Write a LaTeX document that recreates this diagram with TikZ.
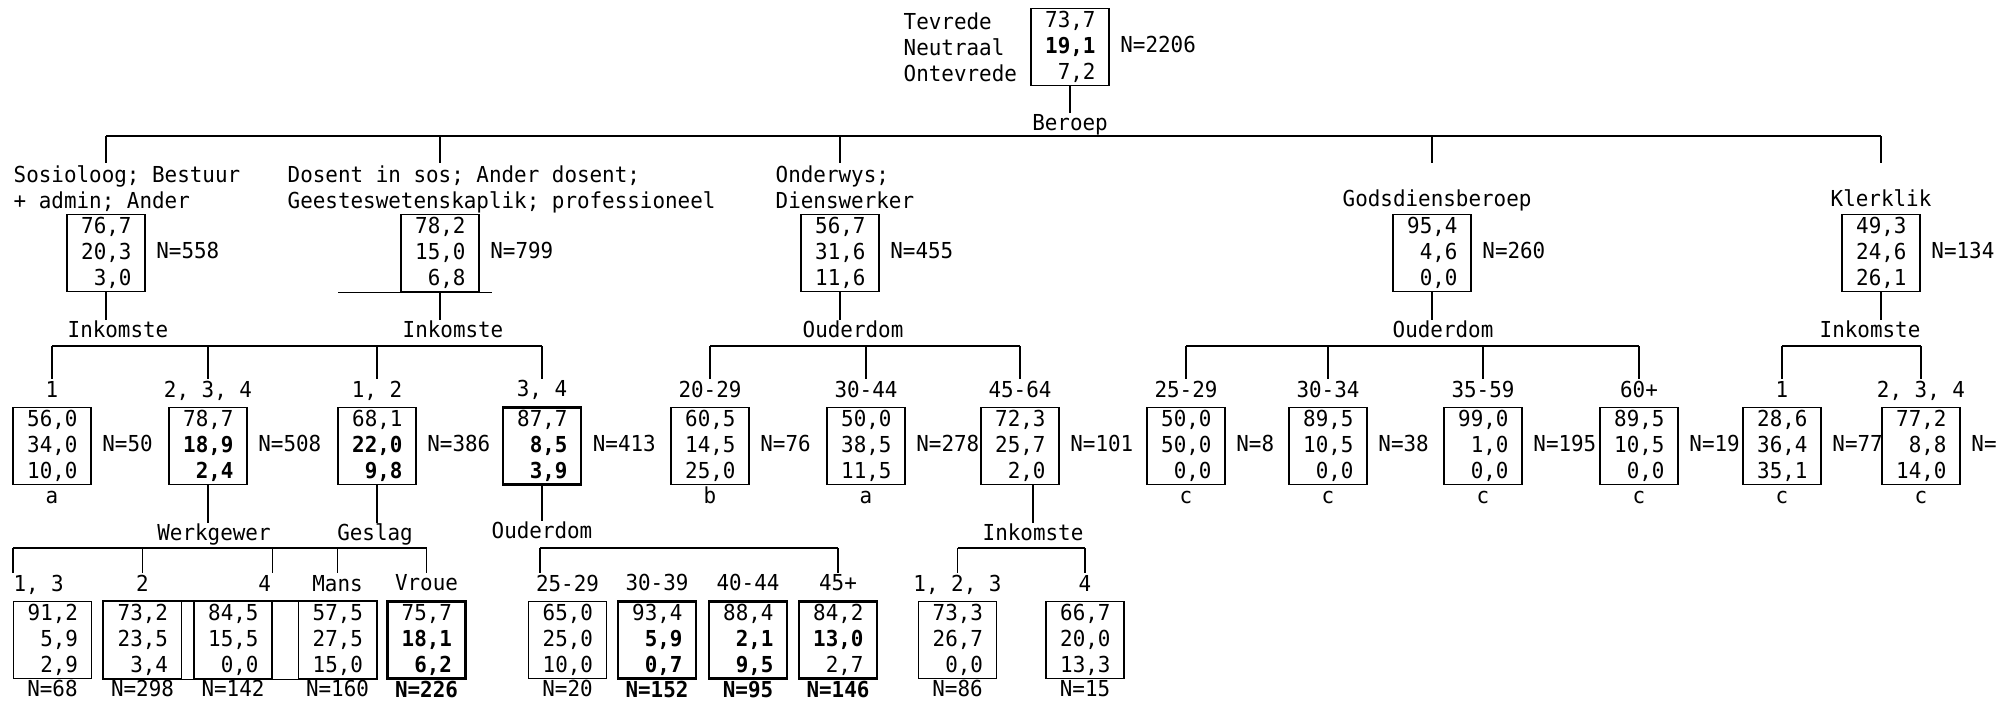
\documentclass[tikz,border=0pt]{standalone}
\usepackage{fontspec}
\usepackage{tikz}
\usetikzlibrary{positioning,fit}
\newfontfamily\tw[FakeStretch=0.95]{DejaVu Sans Mono}

\begin{document}
\begin{tikzpicture}[x=1pt,y=-1pt,
  font=\tw\fontsize{22}{26}\selectfont,
  line width=1.4pt,
  vbox/.style={draw,minimum width=78pt,minimum height=77pt,text width=51pt,align=right,inner sep=0pt},
  hvy/.style={line width=2.4pt},
  lbl/.style={inner sep=1pt,text height=16pt,text depth=5pt},
  txt/.style={inner sep=1pt,align=left,anchor=north west}
]
  \useasboundingbox (0,0) rectangle (2010,704);

  \node[vbox] (root) at (1070,47) {73,7\\\textbf{19,1}\\7,2};
  \node[txt,anchor=west] (rlab) at (902,47) {Tevrede\\Neutraal\\Ontevrede};
  \node[lbl,right=9pt of root] (rootn) {N=2206};
  \node[lbl] (s0) at (1070,125) {Beroep};
  \draw (root) -- (s0);
  \coordinate (bar0) at (0,136); \coordinate (drop0) at (0,163);

  \node[vbox] (a) at (106,253) {76,7\\20,3\\3,0};
  \node[vbox] (b) at (440,253) {78,2\\15,0\\6,8};
  \node[vbox] (c) at (840,253) {56,7\\31,6\\11,6};
  \node[vbox] (d) at (1432,253) {95,4\\4,6\\0,0};
  \node[vbox] (e) at (1881,253) {49,3\\24,6\\26,1};
  \node[lbl,right=9pt of a] (an) {N=558};
  \node[lbl,right=9pt of b] (bn) {N=799};
  \node[lbl,right=9pt of c] (cn) {N=455};
  \node[lbl,right=9pt of d] (dn) {N=260};
  \node[lbl,right=9pt of e] (en) {N=134};
  \node[txt] (alab) at (12,164) {Sosioloog; Bestuur\\+ admin; Ander};
  \node[txt] (blab) at (286,164) {Dosent in sos; Ander dosent;\\Geesteswetenskaplik; professioneel};
  \node[txt] (clab) at (774,164) {Onderwys;\\Dienswerker};
  \node[lbl,anchor=west] (dlab) at (1341,201) {Godsdiensberoep};
  \node[lbl,anchor=west] (elab) at (1829,201) {Klerklik};
  \draw (a |- bar0) -- (e |- bar0);
  \foreach \n in {a,b,c,d,e} \draw (\n |- bar0) -- (\n |- drop0);
  \draw ([xshift=-62pt]b.south west) -- ([xshift=12pt]b.south east);

  \node[lbl] (sa) at (118,332) {Inkomste};
  \node[lbl] (sb) at (453,332) {Inkomste};
  \node[lbl] (sc) at (853,332) {Ouderdom};
  \node[lbl] (sd) at (1443,332) {Ouderdom};
  \node[lbl] (se) at (1870,332) {Inkomste};
  \foreach \n in {a,b,c,d,e} \draw (\n.south) -- (\n.south |- s\n.north);
  \coordinate (bar1) at (0,346);

  \node[vbox] (a1) at (52,446) {56,0\\34,0\\10,0};
  \node[vbox] (a2) at (208,446) {78,7\\\textbf{18,9}\\\textbf{2,4}};
  \node[vbox] (b1) at (377,446) {68,1\\\textbf{22,0}\\\textbf{9,8}};
  \node[vbox,hvy] (b2) at (542,446) {87,7\\\textbf{8,5}\\\textbf{3,9}};
  \node[vbox] (c1) at (710,446) {60,5\\14,5\\25,0};
  \node[vbox] (c2) at (866,446) {50,0\\38,5\\11,5};
  \node[vbox] (c3) at (1020,446) {72,3\\25,7\\2,0};
  \node[vbox] (d1) at (1186,446) {50,0\\50,0\\0,0};
  \node[vbox] (d2) at (1328,446) {89,5\\10,5\\0,0};
  \node[vbox] (d3) at (1483,446) {99,0\\1,0\\0,0};
  \node[vbox] (d4) at (1639,446) {89,5\\10,5\\0,0};
  \node[vbox] (e1) at (1782,446) {28,6\\36,4\\35,1};
  \node[vbox] (e2) at (1921,446) {77,2\\8,8\\14,0};

  \node[lbl,above=3pt of a1] (a1-l) {1};
  \node[lbl,above=3pt of a2] (a2-l) {2, 3, 4};
  \node[lbl,above=3pt of b1] (b1-l) {1, 2};
  \node[lbl,above=3pt of b2] (b2-l) {3, 4};
  \node[lbl,above=3pt of c1] (c1-l) {20-29};
  \node[lbl,above=3pt of c2] (c2-l) {30-44};
  \node[lbl,above=3pt of c3] (c3-l) {45-64};
  \node[lbl,above=3pt of d1] (d1-l) {25-29};
  \node[lbl,above=3pt of d2] (d2-l) {30-34};
  \node[lbl,above=3pt of d3] (d3-l) {35-59};
  \node[lbl,above=3pt of d4] (d4-l) {60+};
  \node[lbl,above=3pt of e1] (e1-l) {1};
  \node[lbl,above=3pt of e2] (e2-l) {2, 3, 4};
  \foreach \n in {a1,a2,b1,b2,c1,c2,c3,d1,d2,d3,d4,e1,e2} \draw (\n-l.north |- bar1) -- (\n-l.north);
  \draw (a1-l.north |- bar1) -- (b2-l.north |- bar1);
  \draw (c1-l.north |- bar1) -- (c3-l.north |- bar1);
  \draw (d1-l.north |- bar1) -- (d4-l.north |- bar1);
  \draw (e1-l.north |- bar1) -- (e2-l.north |- bar1);

  \node[lbl,right=9pt of a1] (a1-n) {N=50};
  \node[lbl,right=9pt of a2] (a2-n) {N=508};
  \node[lbl,right=9pt of b1] (b1-n) {N=386};
  \node[lbl,right=9pt of b2] (b2-n) {N=413};
  \node[lbl,right=9pt of c1] (c1-n) {N=76};
  \node[lbl,right=9pt of c2] (c2-n) {N=278};
  \node[lbl,right=9pt of c3] (c3-n) {N=101};
  \node[lbl,right=9pt of d1] (d1-n) {N=8};
  \node[lbl,right=9pt of d2] (d2-n) {N=38};
  \node[lbl,right=9pt of d3] (d3-n) {N=195};
  \node[lbl,right=9pt of d4] (d4-n) {N=19};
  \node[lbl,right=9pt of e1] (e1-n) {N=77};
  \node[lbl,right=9pt of e2] (e2-n) {N=};
  \node[lbl,below=1pt of a1] (a1-x) {a};
  \node[lbl,below=1pt of c1] (c1-x) {b};
  \node[lbl,below=1pt of c2] (c2-x) {a};
  \foreach \n in {d1,d2,d3,d4,e1,e2} \node[lbl,below=1pt of \n] (\n-x) {c};

  \node[lbl] (sw) at (214,535) {Werkgewer};
  \node[lbl] (sg) at (375,535) {Geslag};
  \node[lbl] (so) at (542,533) {Ouderdom};
  \node[lbl] (si) at (1033,535) {Inkomste};
  \draw (a2.south) -- (a2.south |- sw.north);
  \draw (b1.south) -- (b1.south |- sg.north);
  \draw (b2.south) -- (so);
  \draw (si.north |- c3.south) -- (si);
  \coordinate (bar2) at (0,548);

  \node[vbox] (w1) at (52.5,640) {91,2\\5,9\\2,9};
  \node[vbox] (w2) at (142.5,640) {73,2\\23,5\\3,4};
  \node[vbox] (w3) at (233,640) {84,5\\15,5\\0,0};
  \node[vbox] (g1) at (337.5,640) {57,5\\27,5\\15,0};
  \node[vbox,hvy] (g2) at (426.5,640) {75,7\\\textbf{18,1}\\\textbf{6,2}};
  \node[draw,inner sep=0pt,fit=(w2)(w3)(g1)] (wg) {};
  \node[vbox] (o1) at (567.5,640) {65,0\\25,0\\10,0};
  \node[vbox,hvy] (o2) at (657,640) {93,4\\\textbf{5,9}\\\textbf{0,7}};
  \node[vbox,hvy] (o3) at (748,640) {88,4\\\textbf{2,1}\\\textbf{9,5}};
  \node[vbox,hvy] (o4) at (838,640) {84,2\\\textbf{13,0}\\2,7};
  \node[vbox] (i1) at (957.5,640) {73,3\\26,7\\0,0};
  \node[vbox] (i2) at (1085,640) {66,7\\20,0\\13,3};

  \node[lbl,above right=3pt and -1pt of w1.north west] (w1-l) {1, 3};
  \node[lbl,above=3pt of w2] (w2-l) {2};
  \node[lbl,above left=3pt and 0pt of w3.north east] (w3-l) {4};
  \node[lbl,above=3pt of g1] (g1-l) {Mans};
  \node[lbl,above=3pt of g2] (g2-l) {Vroue};
  \node[lbl,above=3pt of o1] (o1-l) {25-29};
  \node[lbl,above=3pt of o2] (o2-l) {30-39};
  \node[lbl,above=3pt of o3] (o3-l) {40-44};
  \node[lbl,above=3pt of o4] (o4-l) {45+};
  \node[lbl,above=3pt of i1] (i1-l) {1, 2, 3};
  \node[lbl,above=3pt of i2] (i2-l) {4};
  \coordinate (o1d) at ([xshift=12pt]o1.north west);

  \draw (w1.north west |- bar2) -- (w3.north east |- bar2);
  \draw (w3.north east |- bar2) -- (g2 |- bar2);
  \draw (w1.north west |- bar2) -- (w1.north west |- w1-l.north);
  \draw (w3.north east |- bar2) -- (w3.north east |- w3-l.north);
  \foreach \n in {w2,g1,g2,o4,i1,i2} \draw (\n-l.north |- bar2) -- (\n-l.north);
  \draw (o1d |- bar2) -- (o4-l.north |- bar2);
  \draw (o1d |- bar2) -- (o1d |- o1-l.north);
  \draw (i1-l.north |- bar2) -- (i2-l.north |- bar2);

  \node[lbl,below=0pt of w1] (w1-n) {N=68};
  \node[lbl,below=0pt of w2] (w2-n) {N=298};
  \node[lbl,below=0pt of w3] (w3-n) {N=142};
  \node[lbl,below=0pt of g1] (g1-n) {N=160};
  \node[lbl,below=0pt of g2] (g2-n) {\textbf{N=226}};
  \node[lbl,below=0pt of o1] (o1-n) {N=20};
  \node[lbl,below=0pt of o2] (o2-n) {\textbf{N=152}};
  \node[lbl,below=0pt of o3] (o3-n) {\textbf{N=95}};
  \node[lbl,below=0pt of o4] (o4-n) {\textbf{N=146}};
  \node[lbl,below=0pt of i1] (i1-n) {N=86};
  \node[lbl,below=0pt of i2] (i2-n) {N=15};
\end{tikzpicture}
\end{document}
